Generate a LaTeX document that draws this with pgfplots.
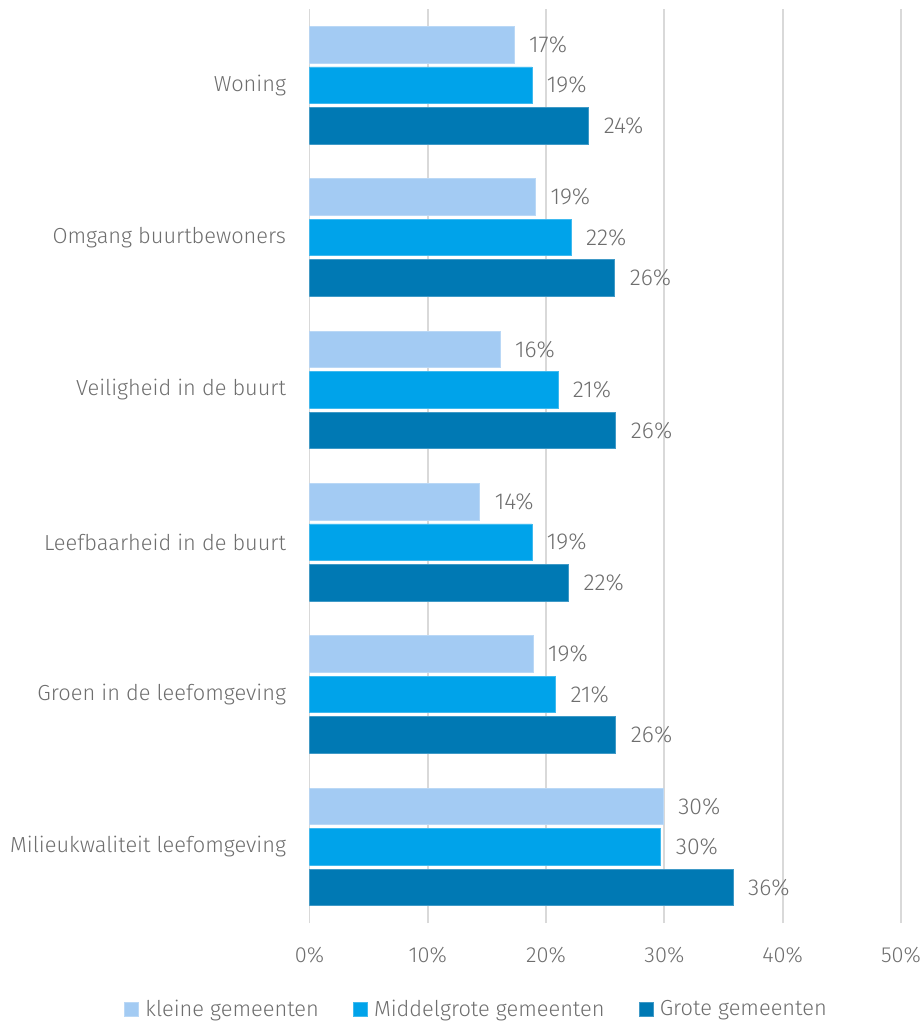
\documentclass[border=0pt]{standalone}
\usepackage{pgfplots}
\pgfplotsset{compat=1.18}
\usepackage{fontspec}
\setmainfont{Fira Sans}[UprightFont={* Light}]

\definecolor{klein}{HTML}{A3CBF3}
\definecolor{middel}{HTML}{00A3EA}
\definecolor{groot}{HTML}{0079B4}
\definecolor{gridgrey}{HTML}{D9D9D9}
\definecolor{txt}{HTML}{6E6E6E}

% values per category, bottom (y=0) to top (y=5)
\pgfplotstableread{
y  klein  middel  groot
0  29.9   29.7    35.8
1  18.9   20.8    25.9
2  14.4   18.8    21.9
3  16.1   21.0    25.9
4  19.1   22.1    25.8
5  17.3   18.8    23.6
}\scores

\begin{document}
\begin{tikzpicture}
\useasboundingbox (0,0) rectangle (462pt,-511.5pt);
\begin{axis}[
  at={(154.75pt,-4.5pt)}, anchor=north west,
  scale only axis,
  width=295.75pt, height=457pt,
  xbar, bar width=18.25pt,
  xmin=0, xmax=50,
  ymin=-0.5, ymax=5.5,
  xtick={0,10,20,30,40,50},
  xticklabels={0\%,10\%,20\%,30\%,40\%,50\%},
  ytick={0,1,2,3,4,5},
  yticklabels={Milieukwaliteit leefomgeving, Groen in de leefomgeving,
    Leefbaarheid in de buurt, Veiligheid in de buurt,
    Omgang buurtbewoners, Woning},
  major tick length=0pt,
  axis line style={draw=none},
  xmajorgrids,
  grid style={draw=gridgrey, line width=0.9pt},
  tick label style={font=\fontsize{10.9}{13}\selectfont, text=txt},
  xticklabel style={yshift=-8.5pt},
  yticklabel style={xshift=-8.2pt},
  /pgf/number format/assume math mode=true,
  nodes near coords={\pgfmathprintnumber[fixed,precision=0]{\pgfplotspointmeta}\%},
  nodes near coords style={anchor=west, xshift=4pt,
    font=\fontsize{11.5}{13}\selectfont, text=txt},
  legend style={at={(0.284,-0.095)}, anchor=center, draw=none,
    legend columns=-1, font=\fontsize{10.9}{13}\selectfont, text=txt,
    /tikz/every odd column/.append style={column sep=1.2pt},
    /tikz/every even column/.append style={column sep=15pt}},
  legend image code/.code={\fill[#1] (0pt,-3.5pt) rectangle (7pt,3.5pt);},
]
\addplot+[bar shift=20.25pt, fill=klein, draw=klein!75!white, line width=0.4pt]
  table[x=klein, y=y] {\scores};
\addplot+[bar shift=0pt, fill=middel, draw=middel!75!white, line width=0.4pt]
  table[x=middel, y=y] {\scores};
\addplot+[bar shift=-20.25pt, fill=groot, draw=groot!75!white, line width=0.4pt]
  table[x=groot, y=y] {\scores};
\legend{kleine gemeenten, Middelgrote gemeenten, Grote gemeenten}
\end{axis}
\end{tikzpicture}
\end{document}
